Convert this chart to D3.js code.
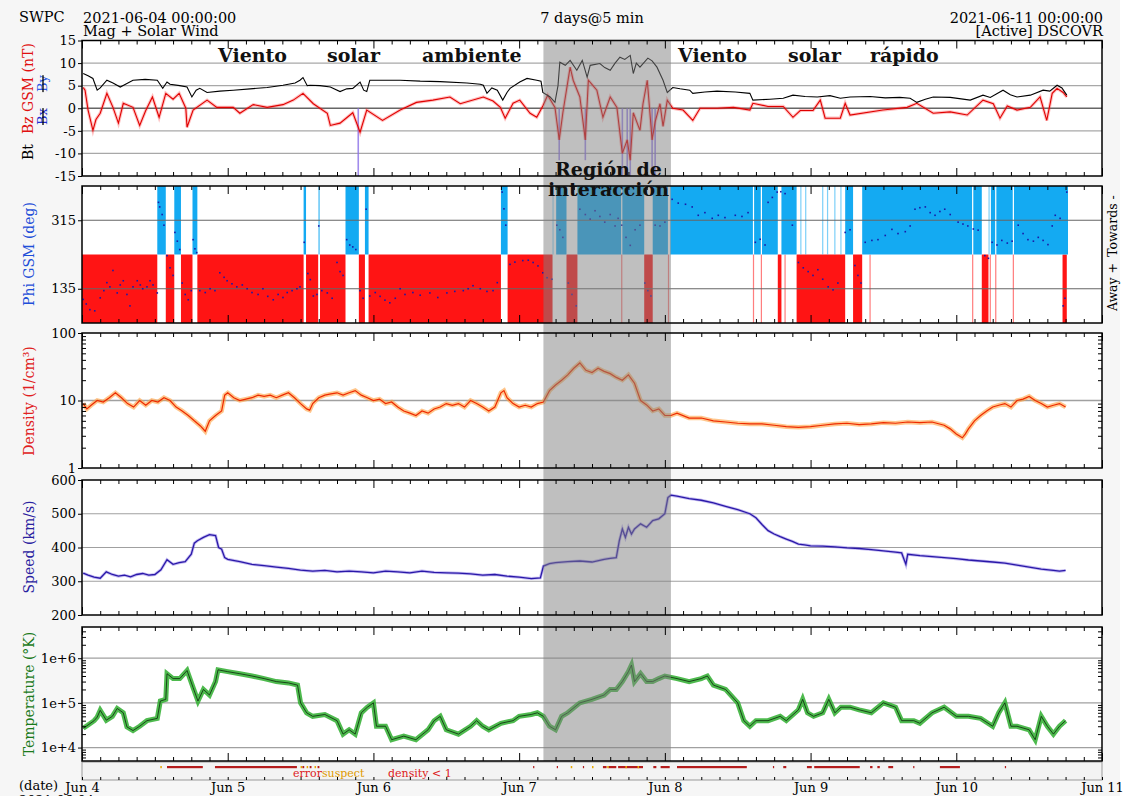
<!DOCTYPE html>
<html><head><meta charset="utf-8">
<script src="https://cdn.jsdelivr.net/npm/d3@7"></script>
<style>body{margin:0;background:#fff}svg{display:block}text{font-family:"DejaVu Serif",serif}</style>
</head><body><svg id="c" width="1130" height="796"></svg>
<script>
// ---------------- DATA (hours since 2021-06-04 00:00) ----------------
const dayLabels = ["Jun 4","Jun 5","Jun 6","Jun 7","Jun 8","Jun 9","Jun 10","Jun 11"];
const magTicks = [15,10,5,0,-5,-10,-15];
const phiTicks = [135,315];
const densTicks = [1,10,100];
const densTickLabels = ["1","10","100"];
const speedTicks = [200,300,400,500,600];
const tempTicks = [1e4,1e5,1e6];
const tempTickLabels = ["1e+4","1e+5","1e+6"];
const interactionRegion = [76, 97];

const bt = [[0.2,7.7],[1.0,7.2],[1.8,6.6],[2.5,4.0],[3.0,4.5],[4.1,6.2],[5.1,5.6],[6.3,4.7],[7.4,5.5],[8.4,6.2],[10.4,6.4],[12.4,6.2],[13.3,4.4],[14.0,5.8],[14.5,5.3],[16.1,5.0],[17.3,4.7],[18.1,2.5],[18.8,4.0],[19.4,4.4],[20.6,3.5],[22.7,3.8],[24.9,4.0],[27.7,4.3],[30.5,4.6],[33.1,5.1],[35.1,5.6],[35.9,6.2],[36.4,6.8],[37.1,5.0],[37.6,5.1],[39.2,5.0],[40.9,4.7],[42.5,3.7],[43.6,4.3],[44.6,4.4],[45.8,5.8],[46.4,4.0],[46.9,3.7],[47.4,6.2],[49.9,6.2],[52.4,6.2],[55.7,6.0],[59.0,5.9],[63.4,5.6],[65.6,5.3],[66.1,5.1],[66.7,3.3],[67.5,4.5],[68.4,4.0],[69.3,1.8],[70.0,3.5],[70.5,4.4],[72.1,5.8],[73.3,6.6],[74.9,6.2],[75.6,6.0],[75.9,3.5],[77.1,2.5],[77.9,1.3],[78.4,5.0],[78.7,10.2],[79.6,9.5],[80.4,10.6],[81.5,8.4],[82.4,10.6],[83.2,6.9],[83.7,9.5],[85.3,9.9],[86.1,9.0],[87.0,8.4],[87.8,10.0],[88.6,11.3],[89.4,10.8],[90.3,11.7],[90.8,7.7],[91.3,10.0],[91.9,9.1],[93.2,11.1],[93.9,10.5],[94.7,9.1],[95.7,6.2],[96.4,3.5],[97.3,4.6],[98.5,4.3],[100.1,4.0],[100.6,3.3],[102.6,3.6],[104.6,3.8],[107.6,3.6],[110.0,3.3],[110.5,1.8],[113.3,2.0],[115.5,2.2],[117.1,2.9],[119.1,2.6],[121.1,2.5],[123.2,2.8],[124.9,2.2],[126.5,2.5],[129.8,2.6],[132.3,2.3],[134.7,2.4],[136.4,2.2],[137.5,1.3],[138.9,2.0],[140.2,2.5],[143.0,2.4],[146.3,1.8],[148.4,2.9],[149.6,2.4],[151.7,4.0],[152.9,3.0],[154.0,2.5],[156.2,2.9],[158.3,4.0],[159.4,3.8],[160.6,5.1],[161.4,4.5],[162.2,2.9]];

const bz = [[0.2,4.6],[0.5,4.0],[1.0,-0.4],[1.8,-4.9],[2.3,-2.5],[3.0,-1.1],[4.1,3.3],[5.1,0.2],[6.0,-3.3],[6.8,1.1],[8.4,0.2],[9.5,-3.8],[10.5,-0.5],[11.6,2.5],[12.7,-2.0],[13.8,3.3],[15.0,2.0],[16.0,3.3],[17.1,0.0],[17.3,-4.2],[18.3,-0.4],[20.6,1.8],[22.2,0.2],[24.9,0.2],[26.0,-1.1],[28.2,0.8],[30.5,0.2],[33.1,0.8],[34.8,1.8],[36.4,3.3],[38.1,1.0],[40.4,-1.1],[40.9,-3.8],[42.5,-3.3],[44.6,-1.0],[45.8,-5.3],[46.9,-0.4],[49.5,-2.7],[52.4,-0.4],[55.1,1.3],[57.8,1.8],[60.6,2.5],[62.3,1.0],[66.1,2.5],[67.7,1.6],[68.9,0.2],[69.7,-2.2],[71.0,1.1],[72.1,1.8],[73.8,-1.1],[74.9,-2.0],[75.9,0.5],[76.7,2.9],[77.9,0.2],[78.6,-7.0],[79.2,-1.0],[80.4,9.1],[80.9,6.2],[82.0,2.5],[82.9,-7.0],[83.4,6.2],[84.8,4.0],[85.8,-2.0],[87.0,2.5],[88.1,0.2],[89.0,-10.0],[89.8,-7.0],[90.3,-11.5],[90.8,-1.0],[91.9,-4.9],[92.4,1.0],[93.1,6.2],[93.9,-7.0],[94.4,-3.0],[95.2,1.0],[95.7,-4.0],[96.4,1.8],[97.3,0.0],[99.0,-0.4],[100.6,-2.7],[101.8,0.0],[104.6,0.0],[107.3,0.2],[110.0,-0.4],[110.5,1.1],[113.0,0.4],[115.5,0.4],[117.1,-2.0],[118.3,-0.5],[120.4,-0.5],[121.6,1.8],[122.4,-2.2],[124.9,-2.2],[125.7,1.1],[126.5,-1.5],[131.9,-0.4],[135.9,0.2],[137.5,1.1],[140.2,-1.1],[143.0,-0.8],[145.8,-1.5],[148.4,1.8],[150.1,1.0],[151.2,-2.2],[152.4,0.5],[154.0,-0.4],[156.2,0.2],[157.8,2.5],[158.9,-2.7],[159.8,3.3],[160.6,4.4],[161.6,3.5],[162.2,2.5]];

// light purple spikes (hour, lowest value)
const bSpikes = [[45.5,-15],[78.6,-11.5],[82.9,-11.5],[89.0,-15],[89.8,-15],[90.3,-15],[93.9,-15],[94.4,-15]];

// Phi GSM shading: away (+) and towards (-) sectors [startHour, endHour]
const awayBands = [[0,12.4],[13.8,15.2],[16.3,18.2],[19.0,36.5],[36.9,38.9],[39.2,43.4],[45.6,46.6],[47.2,69.0],[70.1,77.5],[79.8,81.6],[88.8,89.0],[92.6,94.0],[96.5,96.7],[110.5,110.7],[111.8,112.0],[114.6,115.2],[115.7,115.9],[117.7,125.7],[127.0,128.5],[129.7,129.9],[146.6,146.8],[148.2,149.3],[149.5,149.7],[150.4,150.6],[153.3,153.5],[161.5,162.2]];
const towardBands = [[12.4,13.8],[15.2,16.3],[18.2,19.0],[36.5,36.9],[38.9,39.2],[43.4,45.6],[46.6,47.2],[69.0,70.1],[77.5,77.6],[78.1,79.8],[81.6,88.8],[89.0,92.6],[94.0,96.5],[96.9,110.5],[110.7,111.8],[112.0,114.6],[115.2,117.7],[118.3,118.5],[119.1,119.3],[121.9,122.1],[122.7,122.9],[123.9,124.1],[124.9,125.1],[125.7,127.0],[128.5,146.6],[146.8,148.2],[149.3,149.5],[149.7,150.4],[150.6,153.3],[153.5,162.4]];

const phi = [[0.2,107],[0.7,95],[1.3,80],[2.1,77],[3.0,111],[3.6,130],[4.1,151],[4.6,140],[5.1,183],[5.8,124],[6.3,145],[6.8,156],[7.4,120],[7.9,90],[8.4,140],[9.1,156],[9.6,145],[10.0,135],[10.7,140],[11.2,156],[11.7,145],[12.4,124],[12.6,362],[12.8,350],[13.2,330],[13.5,302],[14.0,222],[14.5,190],[15.0,170],[15.3,283],[15.7,260],[16.1,238],[16.5,150],[17.0,120],[17.5,106],[18.0,130],[18.3,264],[18.6,240],[18.9,230],[19.4,130],[20.3,125],[21.1,135],[21.9,130],[22.7,177],[23.4,165],[23.9,156],[24.7,148],[25.5,140],[26.4,145],[27.2,135],[28.0,125],[29.0,120],[29.8,135],[30.6,115],[31.5,106],[32.3,120],[33.1,112],[33.8,125],[34.6,130],[35.4,135],[35.9,140],[36.6,257],[37.2,175],[37.6,159],[38.1,116],[38.7,120],[39.0,300],[39.5,130],[40.4,124],[41.2,110],[42.0,204],[42.5,180],[43.0,170],[43.6,264],[44.1,250],[44.6,245],[45.1,238],[45.8,130],[46.3,110],[46.8,344],[47.4,116],[48.3,125],[49.1,115],[49.9,105],[50.7,98],[51.6,110],[52.4,135],[53.2,120],[54.5,125],[55.7,118],[57.3,124],[58.6,112],[60.1,124],[61.4,128],[62.8,130],[63.6,135],[64.4,143],[65.6,135],[66.7,128],[67.7,130],[68.4,151],[69.2,389],[69.5,345],[69.8,302],[70.5,199],[71.3,205],[72.6,209],[73.5,210],[74.3,204],[75.1,195],[75.9,177],[76.6,164],[77.4,160],[78.2,302],[78.7,290],[79.2,270],[80.1,150],[80.7,120],[81.4,90],[82.0,344],[82.9,330],[83.7,318],[84.5,340],[85.3,325],[86.1,310],[87.0,330],[87.8,300],[88.3,320],[88.9,302],[89.6,270],[90.3,249],[91.1,290],[91.9,302],[92.7,150],[93.2,130],[93.7,116],[94.4,302],[95.2,300],[96.0,310],[97.2,370],[98.2,360],[99.4,357],[100.5,350],[101.5,328],[102.6,335],[103.8,320],[104.8,328],[105.9,322],[107.6,328],[108.7,325],[109.7,335],[110.9,257],[111.7,265],[112.5,250],[113.0,362],[113.7,375],[114.5,389],[115.1,390],[115.8,385],[117.0,302],[118.0,204],[118.8,190],[119.6,180],[120.4,170],[121.2,185],[122.0,160],[122.9,140],[123.7,132],[124.5,150],[125.7,283],[126.5,290],[127.3,196],[127.8,170],[128.3,150],[129.0,257],[130.1,262],[131.1,264],[132.3,275],[133.4,291],[134.4,280],[135.6,285],[136.4,300],[137.2,344],[138.0,348],[138.9,350],[139.7,335],[140.5,328],[141.3,338],[142.1,344],[143.0,330],[144.3,310],[145.1,305],[145.9,300],[146.8,292],[147.6,289],[148.7,222],[149.3,215],[149.9,257],[150.7,250],[151.5,262],[152.4,255],[153.2,260],[154.2,302],[155.0,280],[155.8,264],[156.7,260],[157.5,270],[158.3,262],[159.1,251],[159.8,300],[160.3,328],[161.1,320],[161.6,90],[161.9,110],[162.2,389]];

const density = [[0.2,9],[0.8,7.5],[1.5,8.5],[2.5,10],[3.5,9.5],[4.5,11],[5.5,13],[6.5,11],[7.5,9],[8.5,8],[9.5,10],[10.5,8.5],[11.5,10],[12.5,9.5],[13.5,11],[14.5,10],[15.5,8],[16.5,7],[17.5,6],[18.5,5],[19.5,4.2],[20.3,3.5],[21,5.0],[22,6],[23,7],[23.5,12],[24,13],[25,11],[26,10],[27,10.5],[28,11],[29,12],[30,11.5],[31,12],[32,11],[33,12],[34,13],[35,11],[36,9],[37,7.5],[37.5,7.2],[38,9],[39,11],[40,12],[41,12.5],[42,13],[43,12],[44,13],[45,14],[46,12],[47,11],[48,10],[49,10.5],[50,9],[51,9.5],[52,8],[53,7],[54,6.5],[55,6],[56,7],[57,6.5],[58,7.5],[59,8],[60,9],[61,8.5],[62,9],[63,8],[64,10],[65,9],[66,8],[67,7],[68,8],[69,13],[69.5,14],[70,11],[71,9],[72,8],[73,8.5],[74,8],[75,9],[76,9.5],[77,14],[78,17],[79,20],[80,24],[81,30],[82,36],[83,28],[84,26],[85,30],[86,27],[87,25],[88,22],[89,20],[90,24],[91,18],[92,10],[93,8.6],[94,7],[95,7.5],[96,6],[97,6],[98,6.5],[100,5.5],[102,5.5],[104,5],[106,4.8],[108,4.6],[110,4.5],[112,4.5],[114,4.3],[116,4.1],[118,4.0],[120,4.1],[122,4.3],[124,4.5],[126,4.6],[128,4.4],[130,4.5],[132,4.7],[134,4.6],[136,4.8],[138,4.7],[140,4.8],[142,4.3],[143,3.8],[144,3.2],[145,2.8],[145.5,3.2],[146,3.8],[147,5],[148,6],[149,7],[150,8],[151,8.5],[152,9],[153,8],[154,10],[155,10.5],[156,11.5],[157,10],[158,9],[159,8],[160,8.5],[161,9],[162,8]];

const speed = [[0.2,324],[1,318],[2,312],[3,309],[4,328],[5,320],[6,315],[7,318],[8,313],[9,320],[10,323],[11,318],[12,320],[13,334],[14,364],[15,350],[16,355],[17,358],[18,380],[18.5,413],[19,420],[20,430],[21,438],[22,435],[22.5,400],[23,395],[23.5,370],[24,365],[26,358],[28,350],[30,346],[32,342],[34,338],[36,333],[38,330],[40,332],[42,328],[44,330],[46,328],[48,325],[50,330],[52,328],[54,325],[56,330],[58,326],[60,325],[62,324],[64,322],[66,318],[68,320],[70,315],[72,312],[74,308],[75.5,310],[76,345],[77,352],[78,355],[80,358],[82,360],[84,357],[86,365],[87,368],[88,370],[88.5,420],[89,455],[89.5,430],[90,460],[90.5,440],[91,455],[92,470],[93,460],[94,480],[95,485],[96,500],[96.5,548],[97,555],[98,552],[100,545],[102,540],[104,532],[106,522],[108,512],[110,500],[111,488],[112,468],[113,450],[114,440],[115,432],[116,425],[117,418],[118,410],[119,408],[120,405],[122,404],[124,402],[126,399],[128,397],[130,394],[132,390],[134,386],[135,384],[135.7,350],[136,380],[138,376],[140,373],[142,370],[144,367],[146,363],[148,360],[150,357],[152,354],[154,348],[156,342],[158,336],[160,332],[161,330],[162,332]];

const temperature = [[0.2,2.7e4],[1,3.2e4],[2,4e4],[2.5,4.8e4],[3,6.8e4],[4,4.1e4],[5,5e4],[5.8,7.5e4],[6.8,6e4],[7.4,2.9e4],[8.4,2.4e4],[9.5,3e4],[10.7,4e4],[12.4,4.5e4],[12.9,1.1e5],[13.8,1.2e5],[14.0,4.5e5],[15,3.5e5],[16.1,3.5e5],[17.3,5.3e5],[18.3,2.2e5],[19.1,1.1e5],[20,2e5],[21,1.5e5],[22,3e5],[22.4,5.5e5],[24,5e5],[26,4.5e5],[28,4e5],[30,3.5e5],[32,3e5],[34,2.8e5],[35.5,2.5e5],[36,1e5],[37,6e4],[38,5e4],[40,5.5e4],[42,4e4],[43,2e4],[44,2.5e4],[45,2e4],[46,6e4],[47,8e4],[48,1e5],[48.5,3e4],[50,3e4],[51,1.5e4],[53,1.8e4],[55,1.5e4],[57,2.5e4],[58,4e4],[59,5e4],[60,2.5e4],[62,2e4],[64,3e4],[65,4e4],[66,3e4],[67,2.5e4],[69,3.5e4],[71,4e4],[72,5e4],[74,5.5e4],[75,6e4],[76,5e4],[77,3e4],[78,2.5e4],[79,5e4],[80,6e4],[82,1e5],[84,1.2e5],[86,1.5e5],[87,2e5],[88,2e5],[89,3e5],[90,5e5],[90.5,7e5],[91,3e5],[92,4.5e5],[93,3e5],[94,3e5],[95,3.5e5],[96,4e5],[98,3.5e5],[100,3e5],[102,3.5e5],[103,4e5],[104,2.5e5],[106,2e5],[108,1e5],[109,4e4],[110,3e4],[111,4e4],[113,4e4],[115,5e4],[116,4e4],[118,7e4],[118.7,1.2e5],[119.5,6e4],[120.5,5e4],[122,6e4],[123,1.2e5],[124,6e4],[125,8e4],[126.5,8e4],[128,7e4],[130,6e4],[132,1e5],[134,8e4],[135,4e4],[137,4e4],[138,3.5e4],[140,6e4],[142,8e4],[144,5e4],[146,5e4],[148,4.5e4],[150,3e4],[151,6e4],[152,1e5],[153,3e4],[154,3e4],[156,2.5e4],[157,1.5e4],[158,5e4],[159,3e4],[160,2e4],[161,3e4],[162,4e4]];

const errorFlags = [[14.0,19.9],[21.9,35.4],[36.3,36.6],[37.5,37.8],[38.8,39.1],[74.3,74.5],[78.2,78.4],[82.5,82.7],[85.8,86.4],[86.7,88.0],[88.3,92.4],[94.1,94.6],[95.3,96.8],[98.0,109.5],[113.8,114.0],[115.5,116.0],[119.4,120.2],[120.6,128.1],[129.8,130.2],[131.0,131.4],[132.8,133.6],[136.9,137.1],[141.3,144.6],[152.0,152.2]];
const suspectFlags = [12.9,36.0,37.0,38.3,80.5,84.0,86.5,89.5,91.5];

// ---------------- CHART ----------------
const svg = d3.select("#c");
svg.append("rect").attr("width",1120).attr("height",796).attr("fill","#f6f6f6");

const X0 = 82, X1 = 1102;
const x = d3.scaleLinear().domain([0,168]).range([X0,X1]);
const yMag = d3.scaleLinear().domain([-15,15]).range([176,40.5]);
const yPhi = d3.scaleLinear().domain([45,405]).range([323,186]);
const yDen = d3.scaleLog().domain([1,100]).range([468,333]);
const ySpd = d3.scaleLinear().domain([200,600]).range([615,480]);
const yTmp = d3.scaleLog().domain([5e3,5e6]).range([761,627]);
const panels = [yMag,yPhi,yDen,ySpd,yTmp];

const g = svg.append("g");
panels.forEach(s=>{
  const r=s.range();
  g.append("rect").attr("x",X0).attr("y",r[1]).attr("width",X1-X0).attr("height",r[0]-r[1]).attr("fill","#fff");
});

// phi bands
const bandG = g.append("g");
function bands(arr, lo, hi, col){
  bandG.selectAll(null).data(arr).enter().append("rect")
    .attr("x",d=>x(d[0])).attr("width",d=>Math.max(1,x(d[1])-x(d[0])))
    .attr("y",yPhi(hi)).attr("height",yPhi(lo)-yPhi(hi))
    .attr("fill",col).attr("opacity",d=>(x(d[1])-x(d[0]))<2?0.55:1);
}
bands(awayBands,45,225,"#ff1414");
bands(towardBands,225,405,"#14aaf2");

// gridlines
function grid(scale, vals, col, w){
  g.selectAll(null).data(vals).enter().append("line")
   .attr("x1",X0).attr("x2",X1).attr("y1",d=>scale(d)).attr("y2",d=>scale(d))
   .attr("stroke",col).attr("stroke-width",w);
}
grid(yMag,[10,5,-5,-10],"#a8a8a8",1.2);
grid(yMag,[0],"#666",1.6);
grid(yPhi,phiTicks,"#666",1.1);
grid(yDen,[10],"#a0a0a0",1.3);
grid(ySpd,[300,400,500],"#a0a0a0",1.2);
grid(yTmp,tempTicks,"#a0a0a0",1.2);

// spikes
g.selectAll(null).data(bSpikes).enter().append("line")
 .attr("x1",d=>x(d[0])).attr("x2",d=>x(d[0])).attr("y1",yMag(0)).attr("y2",d=>yMag(d[1]))
 .attr("stroke","#8a70e8").attr("stroke-width",1.6).attr("opacity",0.8);

const line = (ys)=>d3.line().x(d=>x(d[0])).y(d=>ys(d[1]));
// mag
g.append("path").datum(bz).attr("d",line(yMag)).attr("fill","none").attr("stroke","#ff3030").attr("stroke-width",3.2).attr("opacity",0.3);
g.append("path").datum(bz).attr("d",line(yMag)).attr("fill","none").attr("stroke","#e00000").attr("stroke-width",1.1);
g.append("path").datum(bt).attr("d",line(yMag)).attr("fill","none").attr("stroke","#000").attr("stroke-width",1.1);
// phi dots
g.selectAll(null).data(phi).enter().append("rect")
 .attr("x",d=>x(d[0])-0.8).attr("y",d=>yPhi(d[1])-0.8).attr("width",1.6).attr("height",1.6).attr("fill","#1a1aa8");
// density
g.append("path").datum(density).attr("d",line(yDen)).attr("fill","none").attr("stroke","#ffa040").attr("stroke-width",4.5).attr("opacity",0.6);
g.append("path").datum(density).attr("d",line(yDen)).attr("fill","none").attr("stroke","#ee2a00").attr("stroke-width",1.2);
// speed
g.append("path").datum(speed).attr("d",line(ySpd)).attr("fill","none").attr("stroke","#7a66e0").attr("stroke-width",3).attr("opacity",0.45);
g.append("path").datum(speed).attr("d",line(ySpd)).attr("fill","none").attr("stroke","#2a18a8").attr("stroke-width",1.3);
// temperature
g.append("path").datum(temperature).attr("d",line(yTmp)).attr("fill","none").attr("stroke","#2fae2f").attr("stroke-width",5).attr("opacity",0.85);
g.append("path").datum(temperature).attr("d",line(yTmp)).attr("fill","none").attr("stroke","#0a2a0a").attr("stroke-width",0.8);

// status strip
g.append("rect").attr("x",X0).attr("y",762).attr("width",X1-X0).attr("height",18).attr("fill","#f3f3f3").attr("stroke","#999").attr("stroke-width",1);
g.selectAll(null).data(errorFlags).enter().append("rect")
 .attr("x",d=>x(d[0])).attr("width",d=>Math.max(1,x(d[1])-x(d[0]))).attr("y",766).attr("height",2.2).attr("fill","#b41c1c");
g.selectAll(null).data(suspectFlags).enter().append("rect")
 .attr("x",d=>x(d)).attr("width",1.5).attr("y",766).attr("height",2.2).attr("fill","#e8a800");
const st = g.append("text").attr("y",777).attr("font-size",11);
st.append("tspan").attr("x",293).attr("fill","#dd2020").text("error");
st.append("tspan").attr("fill","#e09a00").text("suspect");
g.append("text").attr("x",388).attr("y",777).attr("font-size",11).attr("fill","#dd2020").text("density < 1");

// interaction region overlay
g.append("rect").attr("x",x(interactionRegion[0])).attr("width",x(interactionRegion[1])-x(interactionRegion[0]))
 .attr("y",40.5).attr("height",761-40.5).attr("fill","#808080").attr("opacity",0.5);

// borders & axes
const hours3 = d3.range(0,169,3);
panels.forEach(s=>{
  const r=s.range();
  g.append("rect").attr("x",X0).attr("y",r[1]).attr("width",X1-X0).attr("height",r[0]-r[1]).attr("fill","none").attr("stroke","#000").attr("stroke-width",1.5);
  const top = d3.axisBottom(x).tickValues(hours3).tickFormat("").tickSize(4).tickSizeOuter(0);
  const bot = d3.axisTop(x).tickValues(hours3).tickFormat("").tickSize(4).tickSizeOuter(0);
  const ta = g.append("g").attr("transform",`translate(0,${r[1]})`).call(top);
  const ba = g.append("g").attr("transform",`translate(0,${r[0]})`).call(bot);
  [ta,ba].forEach(a=>{a.select(".domain").remove(); a.selectAll(".tick line").attr("stroke","#000")
     .attr("y2",function(d){const dir=+d3.select(this).attr("y2")>0?1:-1; return dir*(d%24===0?8:4);});});
});
// bottom date axis
const da = g.append("g").attr("transform","translate(0,780)").call(d3.axisTop(x).tickValues(hours3).tickFormat("").tickSize(3).tickSizeOuter(0));
da.select(".domain").remove();
const dl = g.append("g").attr("transform","translate(0,780)").call(d3.axisBottom(x).tickValues(d3.range(0,169,24)).tickSize(0).tickPadding(3).tickFormat((d,i)=>dayLabels[i]));
dl.select(".domain").remove();
dl.selectAll("text").attr("font-family","DejaVu Serif").attr("font-size",13).attr("fill","#000");

// left axes
function leftAxis(scale, vals, labels){
  const a = g.append("g").attr("transform",`translate(${X0},0)`).call(d3.axisLeft(scale).tickValues(vals).tickSize(4).tickPadding(2).tickFormat((d,i)=>labels?labels[i]:d));
  a.select(".domain").remove();
  a.selectAll("text").attr("font-family","DejaVu Serif").attr("font-size",13).attr("fill","#000");
  a.selectAll("line").attr("stroke","#000");
  return a;
}
leftAxis(yMag,magTicks);
leftAxis(yPhi,phiTicks);
leftAxis(yDen,densTicks,densTickLabels);
leftAxis(ySpd,speedTicks);
leftAxis(yTmp,tempTicks,tempTickLabels);
function minorLog(scale){
  const [a,b]=scale.domain(); const vals=[];
  for(let e=Math.floor(Math.log10(a));e<=Math.ceil(Math.log10(b));e++) for(let m=2;m<=9;m++){const v=m*Math.pow(10,e); if(v>a&&v<b) vals.push(v);}
  const l=g.append("g").attr("transform",`translate(${X0},0)`).call(d3.axisRight(scale).tickValues(vals).tickSize(4).tickFormat(""));
  l.select(".domain").remove(); l.selectAll("line").attr("stroke","#000");
  const r=g.append("g").attr("transform",`translate(${X1},0)`).call(d3.axisLeft(scale).tickValues(vals).tickSize(4).tickFormat(""));
  r.select(".domain").remove(); r.selectAll("line").attr("stroke","#000");
}
minorLog(yDen); minorLog(yTmp);

// axis titles
function vtext(xp,yp,anchor){return g.append("text").attr("transform",`translate(${xp},${yp}) rotate(-90)`).attr("text-anchor",anchor).attr("font-size",14);}
const t1=vtext(33,160,"start");
t1.append("tspan").attr("fill","#000").text("Bt");
t1.append("tspan").attr("fill","#e01010").attr("dx",10).text("Bz GSM (nT)");
const t2=vtext(47,125,"start").attr("font-size",13).attr("text-decoration","line-through");
t2.append("tspan").attr("fill","#1c2fd0").text("Bx");
t2.append("tspan").attr("fill","#2c5ae8").attr("dx",16).text("By");
vtext(34,254,"middle").attr("fill","#1f4fd8").text("Phi GSM (deg)");
vtext(34,401,"middle").attr("fill","#e02020").text("Density (1/cm³)");
vtext(34,547,"middle").attr("fill","#2a22a0").text("Speed (km/s)");
vtext(34,694,"middle").attr("fill","#1a7a1a").text("Temperature (°K)");
vtext(1117,226,"middle").attr("font-size",12.5).attr("fill","#000").text("Towards -");
vtext(1117,287,"middle").attr("font-size",12.5).attr("fill","#000").text("Away +");

// header
const hdr=(t,xp,yp,anc)=>g.append("text").attr("x",xp).attr("y",yp).attr("text-anchor",anc||"start").attr("font-size",14.5).attr("fill","#000").text(t);
hdr("SWPC",19,22);
hdr("2021-06-04 00:00:00",83,23);
hdr("Mag + Solar Wind",83,36);
hdr("7 days@5 min",592,23,"middle");
hdr("2021-06-11 00:00:00",1103,23,"end");
hdr("[Active] DSCOVR",1103,36,"end");
g.append("text").attr("x",19).attr("y",790).attr("font-size",13).text("(date)");
g.append("text").attr("x",19).attr("y",805).attr("font-size",13).text("2021-06-04");

// annotations
const ann=(t,xp,yp)=>g.append("text").attr("x",xp).attr("y",yp).attr("font-family","DejaVu Sans").attr("font-weight","bold").attr("font-size",19).attr("fill","#111").text(t);
ann("Viento",218,62); ann("solar",327,62); ann("ambiente",422,62);
ann("Viento",678,62); ann("solar",788,62); ann("rápido",870,62);
ann("Región de",555,176); ann("interacción",548,196);
</script></body></html>
